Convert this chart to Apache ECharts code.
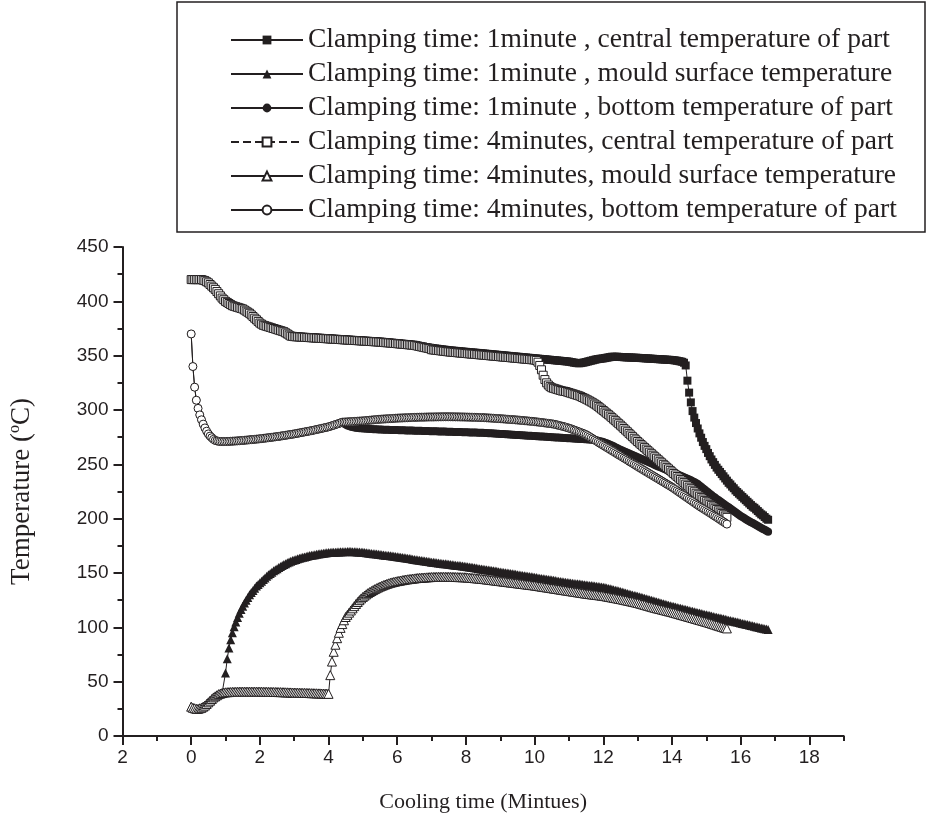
<!DOCTYPE html>
<html>
<head>
<meta charset="utf-8">
<script src="https://cdn.jsdelivr.net/npm/echarts@6/dist/echarts.min.js"></script>
<style>
  html, body { margin: 0; padding: 0; background: #ffffff; }
  #chart { width: 929px; height: 826px; }
</style>
</head>
<body>
<div id="chart"></div>
<script>
// Readings every 0.05 min of cooling time (one row = one minute)
const time = [
  0,0.05,0.1,0.15,0.2,0.25,0.3,0.35,0.4,0.45,0.5,0.55,0.6,0.65,0.7,0.75,0.8,0.85,0.9,0.95,
  1,1.05,1.1,1.15,1.2,1.25,1.3,1.35,1.4,1.45,1.5,1.55,1.6,1.65,1.7,1.75,1.8,1.85,1.9,1.95,
  2,2.05,2.1,2.15,2.2,2.25,2.3,2.35,2.4,2.45,2.5,2.55,2.6,2.65,2.7,2.75,2.8,2.85,2.9,2.95,
  3,3.05,3.1,3.15,3.2,3.25,3.3,3.35,3.4,3.45,3.5,3.55,3.6,3.65,3.7,3.75,3.8,3.85,3.9,3.95,
  4,4.05,4.1,4.15,4.2,4.25,4.3,4.35,4.4,4.45,4.5,4.55,4.6,4.65,4.7,4.75,4.8,4.85,4.9,4.95,
  5,5.05,5.1,5.15,5.2,5.25,5.3,5.35,5.4,5.45,5.5,5.55,5.6,5.65,5.7,5.75,5.8,5.85,5.9,5.95,
  6,6.05,6.1,6.15,6.2,6.25,6.3,6.35,6.4,6.45,6.5,6.55,6.6,6.65,6.7,6.75,6.8,6.85,6.9,6.95,
  7,7.05,7.1,7.15,7.2,7.25,7.3,7.35,7.4,7.45,7.5,7.55,7.6,7.65,7.7,7.75,7.8,7.85,7.9,7.95,
  8,8.05,8.1,8.15,8.2,8.25,8.3,8.35,8.4,8.45,8.5,8.55,8.6,8.65,8.7,8.75,8.8,8.85,8.9,8.95,
  9,9.05,9.1,9.15,9.2,9.25,9.3,9.35,9.4,9.45,9.5,9.55,9.6,9.65,9.7,9.75,9.8,9.85,9.9,9.95,
  10,10.05,10.1,10.15,10.2,10.25,10.3,10.35,10.4,10.45,10.5,10.55,10.6,10.65,10.7,10.75,10.8,10.85,10.9,10.95,
  11,11.05,11.1,11.15,11.2,11.25,11.3,11.35,11.4,11.45,11.5,11.55,11.6,11.65,11.7,11.75,11.8,11.85,11.9,11.95,
  12,12.05,12.1,12.15,12.2,12.25,12.3,12.35,12.4,12.45,12.5,12.55,12.6,12.65,12.7,12.75,12.8,12.85,12.9,12.95,
  13,13.05,13.1,13.15,13.2,13.25,13.3,13.35,13.4,13.45,13.5,13.55,13.6,13.65,13.7,13.75,13.8,13.85,13.9,13.95,
  14,14.05,14.1,14.15,14.2,14.25,14.3,14.35,14.4,14.45,14.5,14.55,14.6,14.65,14.7,14.75,14.8,14.85,14.9,14.95,
  15,15.05,15.1,15.15,15.2,15.25,15.3,15.35,15.4,15.45,15.5,15.55,15.6,15.65,15.7,15.75,15.8,15.85,15.9,15.95,
  16,16.05,16.1,16.15,16.2,16.25,16.3,16.35,16.4,16.45,16.5,16.55,16.6,16.65,16.7,16.75,16.8
];

// Clamping time 1 minute, central temperature of part (°C), 0 – 16.8 min
const central1 = [
  420,420,420,420,420,420,420,419.5,419,418,417,415.5,414,412.5,411,409,407,405,403,401.5,
  400,399,398,397,396,395.5,395,394.5,394,393.5,393,392,391,390,389,387.5,386,384.5,383,381.5,
  380,379,378,377.5,377,376.5,376,375.5,375,374.5,374,373.5,373,372.5,372,371,370,369,368,367.8,
  367.5,367.4,367.3,367.2,367.1,367,366.9,366.8,366.7,366.6,366.5,366.4,366.3,366.2,366.1,366,365.9,365.8,365.7,365.6,
  365.5,365.4,365.3,365.2,365.1,365,364.9,364.8,364.7,364.6,364.5,364.4,364.3,364.2,364.1,364,363.9,363.8,363.7,363.6,
  363.5,363.4,363.3,363.2,363.1,363,362.9,362.8,362.7,362.6,362.5,362.4,362.2,362,361.9,361.8,361.6,361.5,361.3,361.2,
  361,360.9,360.7,360.6,360.4,360.3,360.1,360,359.8,359.7,359.5,359.3,359,358.8,358.5,358.3,358,357.8,357.5,357.3,
  357,356.8,356.6,356.4,356.2,356,355.8,355.6,355.4,355.2,355,354.8,354.7,354.5,354.4,354.2,354.1,353.9,353.8,353.6,
  353.5,353.3,353.2,353,352.9,352.8,352.6,352.5,352.3,352.2,352,351.9,351.7,351.6,351.4,351.3,351.1,351,350.8,350.7,
  350.5,350.4,350.2,350.1,349.9,349.8,349.6,349.5,349.3,349.2,349,348.9,348.7,348.6,348.4,348.3,348.1,348,347.8,347.7,
  347.5,347.4,347.2,347.1,346.9,346.8,346.6,346.5,346.3,346.2,346,345.9,345.7,345.6,345.4,345.3,345.1,345,344.8,344.7,
  344.5,344.2,343.9,343.6,343.3,343.1,343,343.2,343.5,343.8,344.2,344.6,345,345.4,345.8,346.2,346.6,346.9,347.1,347.3,
  347.5,347.8,348.1,348.4,348.7,349,349,349,349,348.9,348.8,348.7,348.6,348.5,348.4,348.4,348.3,348.2,348.1,348.1,
  348,347.9,347.8,347.7,347.6,347.5,347.4,347.3,347.2,347.1,347,346.9,346.8,346.7,346.6,346.5,346.4,346.3,346.2,346.1,
  346,345.8,345.6,345.3,345,344.7,344.3,343.5,341,327,316,307,299,293,288,283,278.5,274.5,270.5,267,
  264,260.5,257.5,254.5,252,249.5,247,245,243,241,239,237,235,233,231.5,229.5,228,226,224.5,223,
  221.5,220,218.5,217,215.5,214,212.5,211,210,208.5,207,205.5,204,203,201.5,200,199
];

// Clamping time 1 minute, mould surface temperature (°C)
const mould1 = [
  27,26,25.5,25,25,25.5,26,27,28,29.5,31,32.5,34,35.5,36.5,37.5,38.5,39,39.5,40,
  58,71,81,88.5,95,100.5,105,109,113,116.5,119.5,122.5,125,127.5,130,132,134,136,138,139.5,
  141,142.5,144,145.5,147,148.3,149.5,150.8,152,153,154,155,156,157,157.8,158.6,159.4,160.1,160.8,161.4,
  162,162.5,163,163.5,164,164.4,164.8,165.2,165.6,166,166.3,166.6,166.9,167.2,167.5,167.8,168,168.2,168.4,168.6,
  168.8,168.9,169,169.1,169.2,169.3,169.4,169.5,169.5,169.6,169.6,169.7,169.7,169.7,169.6,169.6,169.5,169.4,169.3,169.2,
  169,168.8,168.6,168.4,168.2,168,167.8,167.6,167.4,167.2,167,166.8,166.6,166.4,166.2,166,165.8,165.6,165.4,165.2,
  165,164.75,164.5,164.25,164,163.75,163.5,163.25,163,162.75,162.5,162.25,162,161.75,161.5,161.25,161,160.75,160.5,160.25,
  160,159.8,159.6,159.4,159.2,159,158.8,158.6,158.4,158.2,158,157.8,157.6,157.4,157.2,157,156.8,156.6,156.4,156.2,
  156,155.75,155.5,155.25,155,154.75,154.5,154.25,154,153.75,153.5,153.25,153,152.75,152.5,152.25,152,151.75,151.5,151.25,
  151,150.75,150.5,150.25,150,149.75,149.5,149.25,149,148.75,148.5,148.25,148,147.75,147.5,147.25,147,146.75,146.5,146.25,
  146,145.75,145.5,145.25,145,144.75,144.5,144.25,144,143.75,143.5,143.25,143,142.75,142.5,142.25,142,141.75,141.5,141.25,
  141,140.8,140.6,140.4,140.2,140,139.8,139.6,139.4,139.2,139,138.8,138.6,138.4,138.2,138,137.8,137.6,137.4,137.2,
  137,136.6,136.2,135.8,135.4,135,134.6,134.2,133.8,133.4,133,132.55,132.1,131.65,131.2,130.75,130.3,129.85,129.4,128.95,
  128.5,128.05,127.6,127.15,126.7,126.25,125.8,125.35,124.9,124.45,124,123.55,123.1,122.65,122.2,121.75,121.3,120.85,120.4,119.95,
  119.5,119.1,118.7,118.3,117.9,117.5,117.1,116.7,116.3,115.9,115.5,115.1,114.7,114.3,113.9,113.5,113.1,112.7,112.3,111.9,
  111.5,111.1,110.8,110.4,110,109.6,109.3,108.9,108.5,108.1,107.8,107.4,107,106.6,106.3,105.9,105.5,105.1,104.8,104.4,
  104,103.6,103.3,102.9,102.5,102.1,101.8,101.4,101,100.6,100.3,99.9,99.5,99.1,98.8,98.4,98
];

// Clamping time 1 minute, bottom temperature of part (°C)
const bottom1 = [
  370,340,321,309,301.5,295.5,291,287,283.5,280.5,278,276,274.5,273,272,271.5,271.2,271,271,271,
  271,271,271.1,271.2,271.3,271.4,271.5,271.6,271.7,271.8,272,272.1,272.3,272.4,272.6,272.7,272.9,273,273.2,273.3,
  273.5,273.7,273.9,274.1,274.3,274.5,274.7,274.9,275.1,275.3,275.5,275.7,276,276.2,276.5,276.7,277,277.2,277.5,277.7,
  278,278.3,278.6,278.9,279.2,279.5,279.8,280.1,280.4,280.7,281,281.3,281.7,282,282.4,282.7,283.1,283.4,283.8,284.1,
  284.5,285,285.5,286,286.6,287.1,287.6,288.2,288.8,287.6,286.6,285.8,285.2,284.7,284.3,284,283.7,283.5,283.3,283.1,
  283,282.9,282.8,282.7,282.6,282.5,282.4,282.3,282.2,282.1,282,281.95,281.9,281.85,281.8,281.75,281.7,281.65,281.6,281.55,
  281.5,281.45,281.4,281.35,281.3,281.25,281.2,281.15,281.1,281.05,281,280.95,280.9,280.85,280.8,280.75,280.7,280.65,280.6,280.55,
  280.5,280.45,280.4,280.35,280.3,280.25,280.2,280.15,280.1,280.05,280,279.95,279.9,279.85,279.8,279.75,279.7,279.65,279.6,279.55,
  279.5,279.45,279.4,279.35,279.3,279.25,279.2,279.15,279.1,279.05,279,278.9,278.8,278.7,278.6,278.5,278.4,278.3,278.2,278.1,
  278,277.9,277.8,277.7,277.6,277.5,277.4,277.3,277.2,277.1,277,276.9,276.8,276.7,276.6,276.5,276.4,276.3,276.2,276.1,
  276,275.9,275.8,275.7,275.6,275.5,275.4,275.3,275.2,275.1,275,274.9,274.8,274.7,274.6,274.5,274.4,274.3,274.2,274.1,
  274,273.9,273.8,273.7,273.6,273.5,273.4,273.3,273.2,273.1,273,272.9,272.8,272.7,272.6,272.4,272.1,271.7,271.3,270.9,
  270.5,269.9,269.3,268.7,268.1,267.4,266.6,265.8,265,264.2,263.5,262.8,262.1,261.4,260.7,260,259.3,258.6,257.9,257.2,
  256.5,255.8,255.1,254.4,253.7,253,252.3,251.6,250.9,250.2,249.5,248.8,248.1,247.5,246.8,246.1,245.5,244.8,244.1,243.5,
  242.8,242.1,241.4,240.8,240.1,239.4,238.7,238,237.4,236.7,236,235.3,234.5,233.7,232.8,231.8,230.5,229.3,228,226.8,
  225.5,224.2,223,221.7,220.5,219.4,218.2,217.1,216,214.9,213.8,212.6,211.5,210.4,209.3,208.1,207,205.9,204.8,203.6,
  202.5,201.5,200.5,199.5,198.5,197.6,196.8,195.9,195,194.1,193.3,192.4,191.5,190.6,189.8,188.9,188
];

// Clamping time 4 minutes, central temperature of part (°C), 0 – 15.6 min
const central4 = [
  420,420,420,420,420,420,420,419.5,419,418,417,415.5,414,412.5,411,409,407,405,403,401.5,
  400,399,398,397,396,395.5,395,394.5,394,393.5,393,392,391,390,389,387.5,386,384.5,383,381.5,
  380,379,378,377.5,377,376.5,376,375.5,375,374.5,374,373.5,373,372.5,372,371,370,369,368,367.8,
  367.5,367.4,367.3,367.2,367.1,367,366.9,366.8,366.7,366.6,366.5,366.4,366.3,366.2,366.1,366,365.9,365.8,365.7,365.6,
  365.5,365.4,365.3,365.2,365.1,365,364.9,364.8,364.7,364.6,364.5,364.4,364.3,364.2,364.1,364,363.9,363.8,363.7,363.6,
  363.5,363.4,363.3,363.2,363.1,363,362.9,362.8,362.7,362.6,362.5,362.4,362.2,362,361.9,361.8,361.6,361.5,361.3,361.2,
  361,360.9,360.7,360.6,360.4,360.3,360.1,360,359.8,359.7,359.5,359.2,358.8,358.5,358.1,357.8,357.4,357.1,356.7,356.4,
  355.5,355.3,355.1,354.9,354.7,354.5,354.3,354.1,353.9,353.7,353.5,353.3,353.2,353,352.9,352.7,352.6,352.4,352.3,352.1,
  352,351.8,351.7,351.5,351.4,351.3,351.1,351,350.8,350.7,350.5,350.4,350.2,350.1,349.9,349.8,349.6,349.5,349.3,349.2,
  349,348.9,348.7,348.6,348.4,348.3,348.1,348,347.8,347.7,347.5,347.4,347.2,347.1,346.9,346.8,346.6,346.5,346.3,346.2,
  346,345.5,344,341,337,332,328,325,323,321.5,320.5,320,319.5,319,318.5,318,317.5,317.3,317,316.5,
  316,315.5,315,314.5,314,313.5,313,312.3,311.5,310.8,310,309.2,308.3,307.4,306.5,305.5,304.5,303.3,302,300.8,
  299.5,298.2,297,295.7,294.4,293,291.6,290.2,288.8,287.4,286,284.5,283,281.5,280,278.5,277,275.5,274,272.5,
  271,269.6,268.2,266.8,265.4,264,262.6,261.2,259.8,258.4,257,255.6,254.2,252.8,251.4,250,248.6,247.2,245.8,244.4,
  243,241.6,240.2,238.8,237.4,236,234.6,233.2,231.8,230.4,229,227.6,226.2,224.8,223.4,222,220.7,219.4,218.1,216.8,
  215.6,214.4,213.2,212,210.8,209.6,208.4,207.2,206,204.8,203.6,202.4,201.2
];

// Clamping time 4 minutes, mould surface temperature (°C)
const mould4 = [
  27,26,25.5,25,25,25.5,26,27,28,29.5,31,32.5,34,35.5,36.5,37.5,38.5,39,39.5,40,
  40.2,40.3,40.4,40.5,40.6,40.6,40.7,40.7,40.8,40.8,40.8,40.8,40.8,40.8,40.8,40.8,40.8,40.8,40.8,40.8,
  40.8,40.8,40.7,40.7,40.7,40.6,40.6,40.6,40.5,40.5,40.5,40.4,40.4,40.3,40.3,40.2,40.2,40.1,40.1,40,
  40,39.9,39.9,39.8,39.8,39.7,39.7,39.6,39.6,39.5,39.4,39.4,39.3,39.3,39.2,39.2,39.1,39.1,39,39,
  38.8,56,68.5,77.5,84,90,95,99.5,103,106.5,109.5,111.5,113.5,115.5,117.5,119.5,121.5,123.3,125,126.6,
  128,129.2,130.4,131.5,132.5,133.4,134.3,135.2,136,136.8,137.5,138.2,138.8,139.4,140,140.5,141,141.4,141.8,142.2,
  142.5,142.8,143.1,143.4,143.7,144,144.2,144.4,144.6,144.8,145,145.2,145.4,145.5,145.7,145.8,145.9,146,146.1,146.2,
  146.3,146.35,146.4,146.45,146.5,146.5,146.5,146.5,146.5,146.5,146.5,146.5,146.4,146.4,146.3,146.3,146.2,146.2,146.1,146.1,
  146,145.85,145.7,145.55,145.4,145.25,145.1,144.95,144.8,144.65,144.5,144.3,144.1,143.9,143.7,143.5,143.3,143.1,142.9,142.7,
  142.5,142.3,142.1,141.9,141.7,141.5,141.3,141.1,140.9,140.7,140.5,140.3,140.1,139.9,139.7,139.5,139.3,139.1,138.9,138.7,
  138.5,138.25,138,137.75,137.5,137.25,137,136.75,136.5,136.25,136,135.75,135.5,135.25,135,134.75,134.5,134.25,134,133.75,
  133.5,133.25,133,132.75,132.5,132.25,132,131.75,131.5,131.25,131,130.8,130.6,130.4,130.2,130,129.8,129.6,129.4,129.2,
  129,128.7,128.4,128.1,127.8,127.5,127.2,126.9,126.6,126.3,126,125.65,125.3,124.95,124.6,124.25,123.9,123.55,123.2,122.85,
  122.5,122.05,121.6,121.15,120.7,120.25,119.8,119.35,118.9,118.45,118,117.6,117.2,116.8,116.4,116,115.6,115.2,114.8,114.4,
  114,113.55,113.1,112.65,112.2,111.75,111.3,110.85,110.4,109.95,109.5,109.05,108.6,108.15,107.7,107.25,106.8,106.35,105.9,105.45,
  105,104.5,104,103.5,103,102.5,102,101.5,101,100.5,100,99.5,99
];

// Clamping time 4 minutes, bottom temperature of part (°C)
const bottom4 = [
  370,340,321,309,301.5,295.5,291,287,283.5,280.5,278,276,274.5,273,272,271.5,271.2,271,271,271,
  271,271,271.1,271.2,271.3,271.4,271.5,271.6,271.7,271.8,272,272.1,272.3,272.4,272.6,272.7,272.9,273,273.2,273.3,
  273.5,273.7,273.9,274.1,274.3,274.5,274.7,274.9,275.1,275.3,275.5,275.7,276,276.2,276.5,276.7,277,277.2,277.5,277.7,
  278,278.3,278.6,278.9,279.2,279.5,279.8,280.1,280.4,280.7,281,281.3,281.7,282,282.4,282.7,283.1,283.4,283.8,284.1,
  284.5,285,285.5,286,286.6,287.1,287.6,288.2,288.8,288.9,289,289.1,289.2,289.3,289.4,289.5,289.6,289.7,289.8,289.9,
  290,290.15,290.3,290.45,290.6,290.75,290.9,291.05,291.2,291.35,291.5,291.6,291.7,291.8,291.9,292,292.1,292.2,292.3,292.4,
  292.5,292.6,292.65,292.7,292.8,292.85,292.9,293,293.05,293.1,293.2,293.25,293.3,293.35,293.4,293.4,293.45,293.5,293.55,293.6,
  293.6,293.6,293.65,293.7,293.7,293.75,293.75,293.8,293.8,293.8,293.8,293.8,293.75,293.75,293.7,293.7,293.65,293.6,293.6,293.55,
  293.5,293.45,293.4,293.35,293.3,293.25,293.2,293.15,293.1,293.05,293,292.9,292.8,292.7,292.6,292.5,292.4,292.3,292.2,292.1,
  292,291.9,291.75,291.65,291.5,291.4,291.3,291.15,291.05,290.9,290.8,290.65,290.5,290.35,290.2,290.05,289.9,289.75,289.6,289.45,
  289.3,289.1,288.9,288.7,288.5,288.3,288.1,287.9,287.7,287.5,287.3,287,286.7,286.3,285.9,285.5,285.1,284.7,284.3,283.8,
  283.3,282.8,282.2,281.6,281,280.4,279.8,279.2,278.6,278,277.3,276.4,275.4,274.4,273.4,272.4,271.4,270.4,269.4,268.4,
  267.5,266.5,265.5,264.6,263.6,262.6,261.7,260.7,259.7,258.7,257.8,256.8,255.8,254.9,253.9,252.9,251.9,251,250,249,
  248,247,246.1,245.1,244.2,243.2,242.3,241.3,240.4,239.4,238.5,237.5,236.6,235.6,234.7,233.7,232.8,231.8,230.9,229.9,
  229,227.9,226.8,225.7,224.6,223.5,222.4,221.3,220.2,219.1,218,216.9,215.8,214.7,213.6,212.5,211.4,210.4,209.4,208.4,
  207.4,206.4,205.4,204.4,203.3,202.3,201.3,200.2,199.2,198.1,197.1,196,195
];

const seriesNames = [
  'Clamping time: 1minute , central temperature of part',
  'Clamping time: 1minute , mould surface temperature',
  'Clamping time: 1minute , bottom temperature of part',
  'Clamping time: 4minutes, central temperature of part',
  'Clamping time: 4minutes, mould surface temperature',
  'Clamping time: 4minutes, bottom temperature of part'
];

const xTicks = [-2, 0, 2, 4, 6, 8, 10, 12, 14, 16, 18];
const xTickLabels = ['2', '0', '2', '4', '6', '8', '10', '12', '14', '16', '18'];

const INK = '#231f20';

function toPoints(values) {
  return values.map((v, i) => [time[i], v]);
}

function lineSeries(name, values, symbol, size, hollow, dashed) {
  return {
    name: name,
    type: 'line',
    data: toPoints(values),
    symbol: symbol,
    symbolSize: size,
    showSymbol: true,
    showAllSymbol: true,
    silent: true,
    animation: false,
    lineStyle: { color: INK, width: 1, type: dashed ? 'dashed' : 'solid' },
    itemStyle: hollow
      ? { color: '#ffffff', borderColor: INK, borderWidth: 1, opacity: 1 }
      : { color: INK, borderColor: INK, borderWidth: 0, opacity: 1 },
    emphasis: { disabled: true }
  };
}

const chart = echarts.init(document.getElementById('chart'), null, { renderer: 'canvas' });

chart.setOption({
  animation: false,
  backgroundColor: '#ffffff',
  textStyle: { fontFamily: 'Liberation Sans', color: INK },
  grid: {
    left: 122.5, right: 85.3, top: 247, bottom: 90,
    outerBoundsMode: 'none', containLabel: false
  },
  graphic: [{
    type: 'rect',
    shape: { x: 177, y: 2, width: 748, height: 230 },
    style: { fill: 'none', stroke: INK, lineWidth: 1.5 },
    silent: true
  }],
  legend: {
    orient: 'vertical',
    left: 225,
    top: 21,
    itemWidth: 72,
    itemHeight: 11,
    itemGap: 6,
    selectedMode: false,
    textStyle: { fontFamily: 'Liberation Serif', fontSize: 27.5, color: INK, lineHeight: 28 },
    data: seriesNames
  },
  xAxis: {
    type: 'value',
    min: -2,
    max: 19.001,
    interval: 2,
    name: 'Cooling time (Mintues)',
    nameLocation: 'middle',
    nameGap: 55,
    nameTextStyle: { fontFamily: 'Liberation Serif', fontSize: 22, color: INK },
    axisLine: { show: true, onZero: false, lineStyle: { color: INK, width: 2 } },
    axisTick: { show: true, customValues: xTicks, length: 9, lineStyle: { color: INK, width: 2 } },
    minorTick: { show: true, splitNumber: 2, length: 5, lineStyle: { color: INK, width: 2 } },
    axisLabel: {
      customValues: xTicks,
      formatter: function (v) {
        for (let i = 0; i < xTicks.length; i++) {
          if (Math.abs(xTicks[i] - v) < 1e-6) return xTickLabels[i];
        }
        return '';
      },
      fontFamily: 'Liberation Sans', fontSize: 19, color: INK, margin: 12
    },
    splitLine: { show: false },
    minorSplitLine: { show: false }
  },
  yAxis: {
    type: 'value',
    min: 0,
    max: 450,
    interval: 50,
    name: '{t|Temperature (}{s|o}{t|C)}',
    nameLocation: 'middle',
    nameGap: 86,
    nameTextStyle: {
      rich: {
        t: { fontFamily: 'Liberation Serif', fontSize: 27, color: INK, lineHeight: 30 },
        s: { fontFamily: 'Liberation Serif', fontSize: 16, color: INK, lineHeight: 16, verticalAlign: 'top' }
      }
    },
    axisLine: { show: true, onZero: false, lineStyle: { color: INK, width: 2 } },
    axisTick: { show: true, length: 9, lineStyle: { color: INK, width: 2 } },
    minorTick: { show: true, splitNumber: 2, length: 5, lineStyle: { color: INK, width: 2 } },
    axisLabel: { fontFamily: 'Liberation Sans', fontSize: 19, color: INK, margin: 14 },
    splitLine: { show: false },
    minorSplitLine: { show: false }
  },
  series: [
    lineSeries(seriesNames[0], central1, 'rect', 8, false, false),
    lineSeries(seriesNames[1], mould1, 'triangle', 9, false, false),
    lineSeries(seriesNames[2], bottom1, 'circle', 8, false, false),
    lineSeries(seriesNames[3], central4, 'rect', 8, true, true),
    lineSeries(seriesNames[4], mould4, 'triangle', 9, true, false),
    lineSeries(seriesNames[5], bottom4, 'circle', 8, true, false)
  ]
});
</script>
</body>
</html>
